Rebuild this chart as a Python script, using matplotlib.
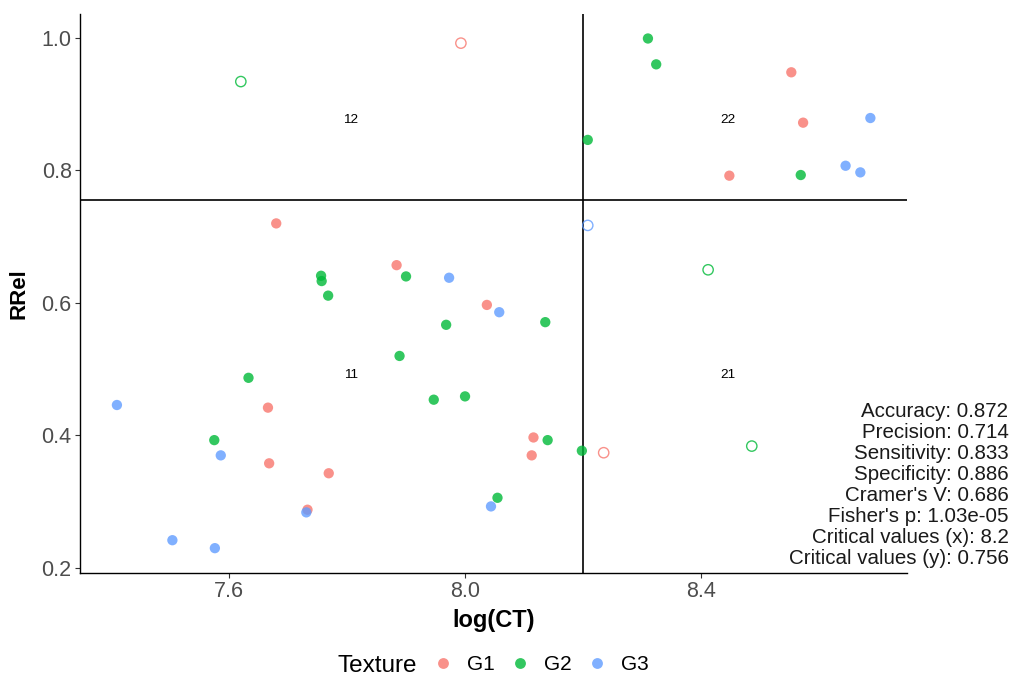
import matplotlib
matplotlib.use("Agg")
import matplotlib.pyplot as plt
from matplotlib.lines import Line2D

# ---- data ----
groups = ["G1", "G2", "G3"]
colors = {"G1": "#F8766D", "G2": "#00BA38", "G3": "#619CFF"}

# correctly classified (filled)
g1_x = [7.680, 7.884, 8.037, 7.666, 7.668, 7.769, 8.116, 8.113, 7.733, 8.553, 8.573, 8.448]
g1_y = [0.720, 0.657, 0.597, 0.442, 0.358, 0.343, 0.397, 0.370, 0.288, 0.948, 0.872, 0.792]
g2_x = [7.756, 7.757, 7.900, 7.768, 7.968, 8.136, 7.889, 7.633, 7.947, 8.000, 7.575, 8.140,
        8.198, 8.055, 8.310, 8.324, 8.208, 8.569]
g2_y = [0.641, 0.633, 0.640, 0.611, 0.567, 0.571, 0.520, 0.487, 0.454, 0.459, 0.393, 0.393,
        0.377, 0.306, 0.999, 0.960, 0.846, 0.793]
g3_x = [7.973, 8.058, 7.410, 7.586, 8.044, 7.731, 7.504, 7.576, 8.687, 8.645, 8.670]
g3_y = [0.638, 0.586, 0.446, 0.370, 0.293, 0.284, 0.242, 0.230, 0.879, 0.807, 0.797]

# misclassified (open)
mis_group = ["G1", "G2", "G3", "G2", "G1", "G2"]
mis_x = [7.993, 7.620, 8.208, 8.412, 8.235, 8.486]
mis_y = [0.992, 0.934, 0.717, 0.650, 0.374, 0.384]

crit_x = 8.2
crit_y = 0.756

quad_labels = ["12", "22", "11", "21"]
quad_x = [7.806, 8.445, 7.806, 8.445]
quad_y = [0.876, 0.876, 0.492, 0.492]

stats_lines = [
    "Accuracy: 0.872",
    "Precision: 0.714",
    "Sensitivity: 0.833",
    "Specificity: 0.886",
    "Cramer's V: 0.686",
    "Fisher's p: 1.03e-05",
    "Critical values (x): 8.2",
    "Critical values (y): 0.756",
]

xticks = [7.6, 8.0, 8.4]
yticks = [0.2, 0.4, 0.6, 0.8, 1.0]

# ---- plot ----
plt.rcParams["font.family"] = ["Liberation Sans", "DejaVu Sans"]
fig = plt.figure(figsize=(10.12, 6.75), dpi=100)
ax = fig.add_axes([0.0791, 0.1511, 0.8171, 0.8282])

filled = {"G1": (g1_x, g1_y), "G2": (g2_x, g2_y), "G3": (g3_x, g3_y)}
for g in groups:
    xs, ys = filled[g]
    ax.scatter(xs, ys, s=55, color=colors[g], alpha=0.8, edgecolors="none", zorder=3)

for g, x, y in zip(mis_group, mis_x, mis_y):
    ax.scatter([x], [y], s=55, facecolors="none", edgecolors=colors[g], alpha=0.8,
               linewidths=1.0, zorder=3)

ax.axvline(crit_x, color="black", lw=1.2, zorder=2)
ax.axhline(crit_y, color="black", lw=1.2, zorder=2)

for t, x, y in zip(quad_labels, quad_x, quad_y):
    ax.text(x, y, t, ha="center", va="center", fontsize=9.7, color="black")

ax.set_xlim(7.3475, 8.749)
ax.set_ylim(0.1925, 1.036)
ax.set_xticks(xticks)
ax.set_xticklabels([f"{v:.1f}" for v in xticks])
ax.set_yticks(yticks)
ax.set_yticklabels([f"{v:.1f}" for v in yticks])
ax.tick_params(axis="both", labelsize=15.5, labelcolor="#4D4D4D", color="#333333",
               length=3.5, width=0.8)
ax.tick_params(axis="x", pad=2)
ax.tick_params(axis="y", pad=2.5)
for s in ["top", "right"]:
    ax.spines[s].set_visible(False)
for s in ["left", "bottom"]:
    ax.spines[s].set_color("black")
    ax.spines[s].set_linewidth(1.0)

ax.set_xlabel("log(CT)", fontsize=17, fontweight="bold", labelpad=5)
ax.set_ylabel("RRel", fontsize=16, fontweight="bold", labelpad=9)

# stats text
fig.text(0.9965, 1 - 564.5 / 675, "\n".join(stats_lines), ha="right", va="baseline",
         fontsize=14.8, color="#1A1A1A", linespacing=1.14)

# legend (manual layout, ggplot style)
leg_y = 1 - 663 / 675
fig.text(338 / 1012, leg_y, "Texture", ha="left", va="center_baseline", fontsize=17.5)
for i, g in enumerate(groups):
    mx = (443 + 77 * i) / 1012
    fig.add_artist(Line2D([mx], [leg_y], transform=fig.transFigure, marker="o",
                          linestyle="none", markersize=7.8, markerfacecolor=colors[g],
                          markeredgecolor="none", alpha=0.8))
    fig.text(mx + 24 / 1012, leg_y, g, ha="left", va="center_baseline", fontsize=15)

fig.savefig("out.png", dpi=100)
